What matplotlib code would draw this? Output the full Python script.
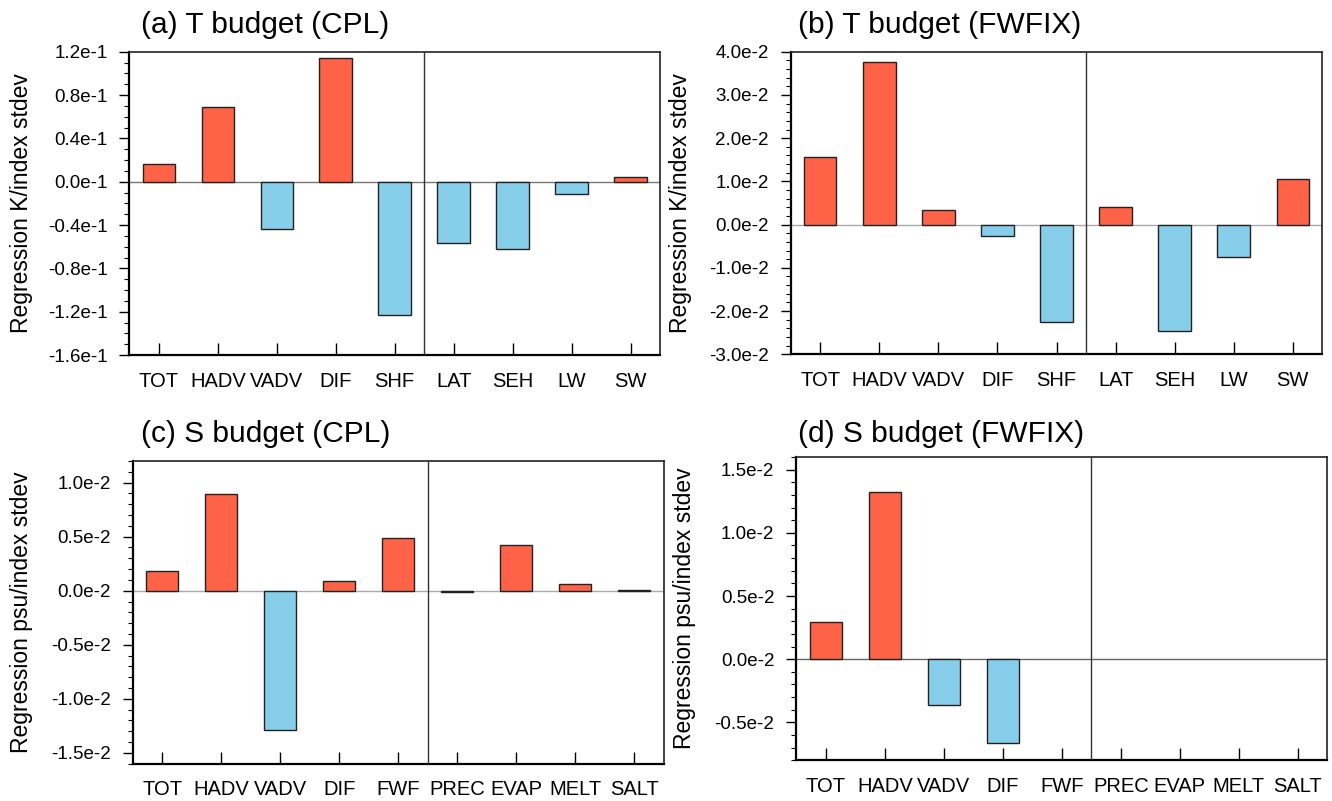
import numpy as np
import matplotlib
matplotlib.use("Agg")
import matplotlib.pyplot as plt
from matplotlib.ticker import FixedLocator, MultipleLocator

plt.rcParams['font.family'] = ['Liberation Sans', 'DejaVu Sans']

# ---------------- data ----------------
t_terms = ["TOT", "HADV", "VADV", "DIF", "SHF", "LAT", "SEH", "LW", "SW"]
s_terms = ["TOT", "HADV", "VADV", "DIF", "FWF", "PREC", "EVAP", "MELT", "SALT"]

t_cpl = [0.0160, 0.0686, -0.0437, 0.1145, -0.1234, -0.0570, -0.0619, -0.0114, 0.0043]
t_fwfix = [0.01565, 0.0376, 0.0033, -0.00254, -0.0225, 0.0041, -0.0247, -0.0076, 0.01057]
s_cpl = [0.00182, 0.00893, -0.01286, 0.00092, 0.00484, -0.00015, 0.00425, 0.00062, 0.0001]
s_fwfix = [0.00297, 0.01326, -0.0036, -0.00663, np.nan, np.nan, np.nan, np.nan, np.nan]

titles = ["(a) T budget (CPL)", "(b) T budget (FWFIX)",
          "(c) S budget (CPL)", "(d) S budget (FWFIX)"]
ylabels = ["Regression K/index stdev", "Regression K/index stdev",
           "Regression psu/index stdev", "Regression psu/index stdev"]

# y-axis setup: (ymin, ymax, major, minor, label scale exponent)
y_a = (-0.16, 0.12, 0.04, 0.01, 1)
y_b = (-0.03, 0.04, 0.01, 0.002, 2)
y_c = (-0.016, 0.012, 0.005, 0.001, 2)
y_d = (-0.008, 0.016, 0.005, 0.001, 2)

# ---------------- figure ----------------
W, H = 1332, 801
fig = plt.figure(figsize=(W / 100, H / 100), dpi=100)

def ax_rect(l, r, t, b):
    return [l / W, 1 - b / H, (r - l) / W, (b - t) / H]

rects = [ax_rect(129.3, 660.0, 51.7, 355.0),
         ax_rect(790.7, 1322.3, 51.7, 354.3),
         ax_rect(132.7, 663.7, 461.0, 763.7),
         ax_rect(796.3, 1327.3, 457.0, 760.3)]
title_pos = [(141, 33), (798, 33), (141, 442), (798, 442)]
ylab_x = [22, 681, 22, 685]
zero_colors = ["#777777", "#aaaaaa", "#aaaaaa", "#666666"]

datasets = [(t_terms, t_cpl, y_a), (t_terms, t_fwfix, y_b),
            (s_terms, s_cpl, y_c), (s_terms, s_fwfix, y_d)]

RED = "#FF6347"
BLUE = "#87CEEB"

for i, (terms, vals, ycfg) in enumerate(datasets):
    ax = fig.add_axes(rects[i])
    x = np.arange(1, len(terms) + 1)
    v = np.array(vals, dtype=float)
    colors = [RED if (not np.isnan(val) and val >= 0) else BLUE for val in v]
    ax.axhline(0, color=zero_colors[i], lw=1.0, zorder=1)
    ax.bar(x, v, width=0.55, color=colors, edgecolor="#222222", linewidth=1.0, zorder=2)
    ax.axvline(5.5, color="#333333", lw=1.0, zorder=3)
    ax.set_xlim(0.5, len(terms) + 0.5)
    ymin, ymax, major, minor, ex = ycfg
    ax.set_ylim(ymin, ymax)
    ticks = np.arange(np.ceil(ymin / major - 1e-9) * major, ymax + major * 1e-6, major)
    ax.yaxis.set_major_locator(FixedLocator(ticks))
    ax.set_yticklabels([f"{t * 10 ** ex:.1f}e-{ex}".replace("-0.0e", "0.0e") for t in ticks])
    ax.yaxis.set_minor_locator(MultipleLocator(minor))
    ax.set_xticks(x)
    ax.set_xticklabels(terms)
    ax.tick_params(axis='x', direction='in', length=8.6, width=1.0, pad=12,
                   labelsize=14.5, bottom=True, top=False)
    ax.tick_params(axis='y', which='major', direction='out', length=7.2, width=1.0,
                   pad=8.5, labelsize=13.5, left=True, right=False)
    ax.tick_params(axis='y', which='minor', direction='out', length=3.6, width=0.8,
                   left=True, right=False)
    ax.tick_params(axis='x', which='minor', bottom=False, top=False)
    for s in ["left", "bottom"]:
        ax.spines[s].set_linewidth(1.6)
        ax.spines[s].set_color("black")
    for s in ["top", "right"]:
        ax.spines[s].set_linewidth(1.2)
        ax.spines[s].set_color("#222222")
    # title
    tx, ty = title_pos[i]
    fig.text(tx / W, 1 - ty / H, titles[i], fontsize=21.5, ha="left", va="baseline")
    # y label
    r = rects[i]
    fig.text(ylab_x[i] / W, r[1] + r[3] / 2, ylabels[i], fontsize=16.5, rotation=90,
             ha="center", va="center")

fig.savefig("out.png", dpi=100)
